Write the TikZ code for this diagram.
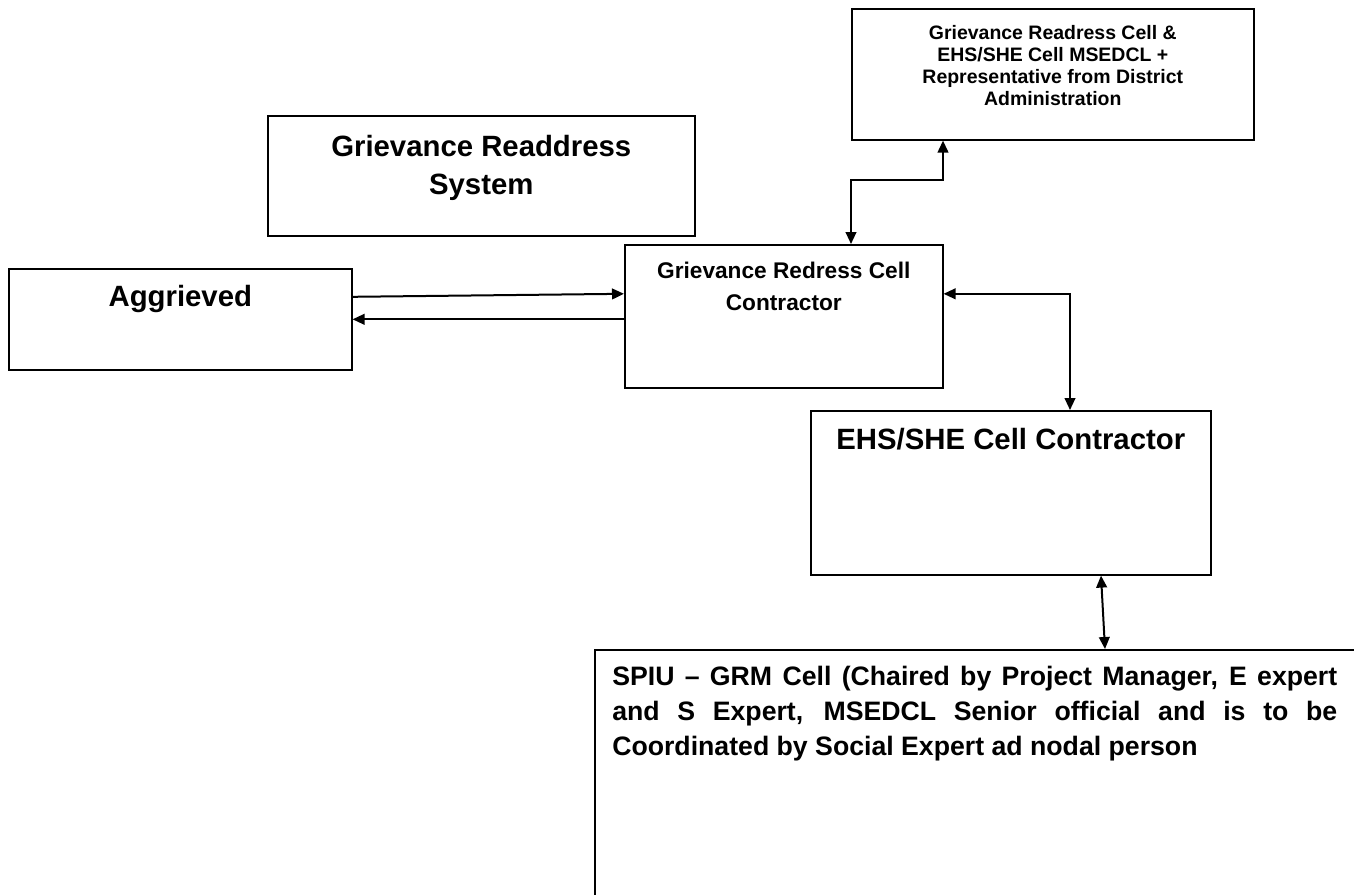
\documentclass[tikz,border=0pt]{standalone}
\usepackage{fontspec}
\setmainfont{Liberation Sans}
\usetikzlibrary{arrows.meta,calc}
\begin{document}
\begin{tikzpicture}[x=0.75pt,y=-0.75pt,
  box/.style={draw,line width=1.2pt,rectangle,inner sep=0pt,anchor=north west},
  lbl/.style={inner sep=0pt,align=center,anchor=north},
  conn/.style={line width=1.5pt,-{Triangle[length=9pt,width=8pt]}},
  conn2/.style={line width=1.5pt,{Triangle[length=9pt,width=8pt]}-{Triangle[length=9pt,width=8pt]}}]
\useasboundingbox (0,0) rectangle (1354,894);
\clip (0,0) rectangle (1354,894);
% boxes
\node[box,minimum width=301.5pt,minimum height=98.25pt] (top) at (851,8) {};
\node[box,minimum width=320.25pt,minimum height=90pt] (grs) at (267,115) {};
\node[box,minimum width=257.25pt,minimum height=75.75pt] (agg) at (8,268) {};
\node[box,minimum width=238.5pt,minimum height=107.25pt] (grc) at (624,244) {};
\node[box,minimum width=300pt,minimum height=123pt] (ehs) at (810,410) {};
\node[box,minimum width=604.5pt,minimum height=234pt] (spiu) at (594,649) {};
% labels
\node[lbl,font=\fontsize{14.6}{16.5}\selectfont\bfseries] (toptext) at ($(top.north)+(0,17)$)
  {Grievance Readress Cell \&\\EHS/SHE Cell MSEDCL +\\Representative from District\\Administration};
\node[lbl,font=\fontsize{22}{28.5}\selectfont\bfseries] (grstext) at ($(grs.north)+(0,20)$)
  {Grievance Readdress\\System};
\node[lbl,font=\fontsize{22}{26}\selectfont\bfseries] (aggtext) at ($(agg.north)+(0,17)$) {Aggrieved};
\node[lbl,font=\fontsize{17}{24}\selectfont\bfseries] (grctext) at ($(grc.north)+(0,18)$)
  {Grievance Redress Cell\\Contractor};
\node[lbl,font=\fontsize{22}{26}\selectfont\bfseries] (ehstext) at ($(ehs.north)+(0,18)$) {EHS/SHE Cell Contractor};
\node[inner sep=0pt,anchor=north west,text width=543.75pt,align=justify,
  font=\fontsize{20}{26.25}\selectfont\bfseries] (spiutext) at ($(spiu.north west)+(18,16.5)$)
  {SPIU – GRM Cell (Chaired by Project Manager, E expert\linebreak and S Expert, MSEDCL Senior official and is to be\linebreak Coordinated by Social Expert ad nodal person};
% connectors
\draw[conn] ($(agg.east)+(0,-22.5)$) -- ($(grc.west)+(0,-22.5)$);
\draw[conn] (grc.west |- agg.east) -- (agg.east);
\draw[conn2] (grc.north -| top.west) -- ++(0,-64) -| ($(top.south west)+(92,0)$);
\draw[conn2] ($(grc.east)+(0,-22.5)$) -| ($(ehs.north west)+(260,0)$);
\draw[conn2] ($(ehs.south west)+(291,0)$) -- ($(spiu.north west)+(511,0)$);
\end{tikzpicture}
\end{document}
